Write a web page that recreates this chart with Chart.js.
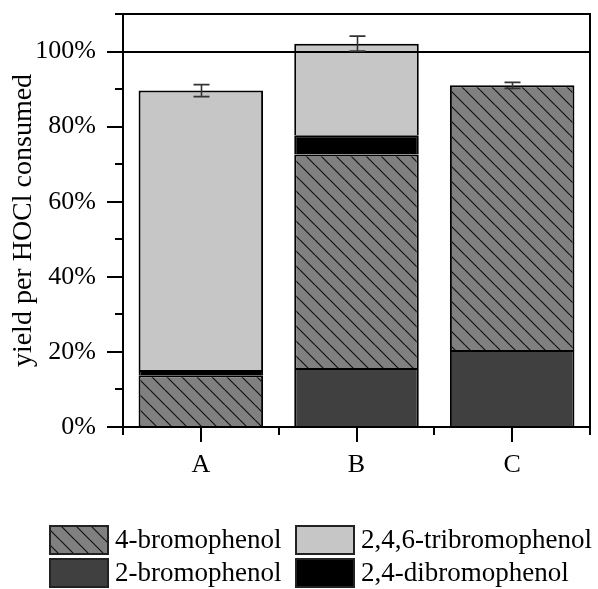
<!DOCTYPE html>
<html>
<head>
<meta charset="utf-8">
<script src="https://cdn.jsdelivr.net/npm/chart.js@4.4.0/dist/chart.umd.min.js"></script>
<style>
  html, body { margin: 0; padding: 0; background: #fff; }
  #wrap { width: 598px; height: 589px; }
</style>
</head>
<body>
<div id="wrap"><canvas id="c" width="598" height="589"></canvas></div>
<script>
// Product yields (% per HOCl consumed) for each condition
const categories   = ['A', 'B', 'C'];
const bromo2       = [null, 15.7, 20.5];   // 2-bromophenol
const bromo4       = [13.8, 56.9, 70.5];   // 4-bromophenol
const dibromo24    = [1.4, 5.1, null];     // 2,4-dibromophenol
const tribromo246  = [74.4, 24.4, null];   // 2,4,6-tribromophenol
const totalErrors  = [1.6, 2.0, 0.8];      // error on total yield
const yMajorTicks  = [0, 20, 40, 60, 80, 100];

const SERIF = '"Liberation Serif", "Times New Roman", serif';

// diagonal hatch for 4-bromophenol
function makeHatch() {
  const s = 15;
  const cv = document.createElement('canvas');
  cv.width = s; cv.height = s;
  const g = cv.getContext('2d');
  g.fillStyle = '#808080';
  g.fillRect(0, 0, s, s);
  g.strokeStyle = '#111';
  g.lineWidth = 1.2;
  g.beginPath();
  for (const k of [-s, 0, s]) {
    g.moveTo(k, 0);
    g.lineTo(k + s, s);
  }
  g.stroke();
  return g.createPattern(cv, 'repeat');
}
const hatch = makeHatch();

// frame, reference line, minor ticks and error bars
const decorations = {
  id: 'decorations',
  afterDatasetsDraw(chart) {
    const { ctx, chartArea: a, scales: { x, y } } = chart;
    ctx.save();
    ctx.strokeStyle = '#000';
    ctx.lineWidth = 2;
    ctx.lineCap = 'butt';
    // top and right frame
    ctx.beginPath();
    ctx.moveTo(a.left, Math.round(a.top));
    ctx.lineTo(a.right + 1, Math.round(a.top));
    ctx.moveTo(Math.round(a.right), a.top);
    ctx.lineTo(Math.round(a.right), a.bottom);
    ctx.stroke();
    // 100 % reference line
    const y100 = Math.round(y.getPixelForValue(100));
    ctx.beginPath();
    ctx.moveTo(a.left, y100);
    ctx.lineTo(a.right, y100);
    ctx.stroke();
    // minor y ticks
    ctx.beginPath();
    for (let v = 10; v <= 110; v += 20) {
      const py = Math.round(y.getPixelForValue(v));
      ctx.moveTo(a.left - 8, py);
      ctx.lineTo(a.left, py);
    }
    // minor x ticks at category boundaries
    const n = categories.length;
    for (let i = 0; i <= n; i++) {
      let px;
      if (i === 0) px = a.left;
      else if (i === n) px = a.right;
      else px = (x.getPixelForValue(i - 1) + x.getPixelForValue(i)) / 2;
      px = Math.round(px);
      ctx.moveTo(px, a.bottom);
      ctx.lineTo(px, a.bottom + 8);
    }
    ctx.stroke();
    // error bars on stacked totals
    ctx.strokeStyle = '#333';
    ctx.lineWidth = 1.6;
    ctx.beginPath();
    categories.forEach((c, i) => {
      const total = chart.data.datasets.reduce((s, d) => s + (d.data[i] || 0), 0);
      const px = Math.round(x.getPixelForValue(i)) + 0.5;
      const hi = y.getPixelForValue(total + totalErrors[i]);
      const lo = y.getPixelForValue(total - totalErrors[i]);
      ctx.moveTo(px, hi); ctx.lineTo(px, lo);
      ctx.moveTo(px - 8, hi); ctx.lineTo(px + 8, hi);
      ctx.moveTo(px - 8, lo); ctx.lineTo(px + 8, lo);
    });
    ctx.stroke();
    ctx.restore();
  }
};

// two-column legend below the plot
const gridLegend = {
  id: 'gridLegend',
  afterDraw(chart) {
    const { ctx } = chart;
    const ds = chart.data.datasets;
    const layout = [
      { idx: 1, col: 0, row: 0 },
      { idx: 3, col: 1, row: 0 },
      { idx: 0, col: 0, row: 1 },
      { idx: 2, col: 1, row: 1 }
    ];
    const colX = [49, 295], rowY = [525, 558];
    const bw = 60, bh = 30;
    ctx.save();
    ctx.font = '27px ' + SERIF;
    ctx.textBaseline = 'middle';
    ctx.textAlign = 'left';
    layout.forEach(it => {
      const d = ds[it.idx];
      const bx = colX[it.col], by = rowY[it.row];
      ctx.fillStyle = d.backgroundColor;
      ctx.fillRect(bx, by, bw, bh);
      ctx.strokeStyle = '#222';
      ctx.lineWidth = 2;
      ctx.strokeRect(bx + 1, by + 1, bw - 2, bh - 2);
      ctx.fillStyle = '#000';
      ctx.fillText(d.label, bx + bw + 6, by + bh / 2 + 1);
    });
    ctx.restore();
  }
};

// each stacked segment draws its top and sides; the base sits on the axis
// or on the segment below, so shared edges stay a single line
const barStyle = {
  borderColor: '#000',
  borderWidth: { top: 2, left: 2, right: 2, bottom: 0 },
  borderSkipped: false
};

new Chart(document.getElementById('c'), {
  type: 'bar',
  data: {
    labels: categories,
    datasets: [
      { label: '2-bromophenol', data: bromo2, backgroundColor: '#404040', ...barStyle },
      { label: '4-bromophenol', data: bromo4, backgroundColor: hatch, ...barStyle },
      { label: '2,4-dibromophenol', data: dibromo24, backgroundColor: '#000000', ...barStyle },
      { label: '2,4,6-tribromophenol', data: tribromo246, backgroundColor: '#c6c6c6', ...barStyle }
    ]
  },
  options: {
    responsive: false,
    animation: false,
    layout: { padding: { top: 14, right: 8, bottom: 108, left: 0 } },
    datasets: { bar: { barPercentage: 0.8, categoryPercentage: 1 } },
    plugins: { legend: { display: false }, tooltip: { enabled: false } },
    scales: {
      x: {
        stacked: true,
        offset: true,
        grid: { offset: false, drawOnChartArea: false, drawTicks: true, tickLength: 15, color: '#000', lineWidth: 2 },
        border: { display: true, color: '#000', width: 2 },
        ticks: { color: '#000', font: { family: SERIF, size: 26 }, padding: 8 },
        afterFit(s) { s.height = 54; }
      },
      y: {
        stacked: true,
        min: 0,
        max: 110,
        ticks: {
          stepSize: 10,
          autoSkip: false,
          color: '#000',
          font: { family: SERIF, size: 26 },
          padding: 11,
          callback: v => yMajorTicks.includes(v) ? v + '%' : ''
        },
        grid: {
          drawOnChartArea: false,
          drawTicks: true,
          tickLength: 16,
          lineWidth: 2,
          color: c => (c.tick && yMajorTicks.includes(c.tick.value)) ? '#000' : 'rgba(0,0,0,0)'
        },
        border: { display: true, color: '#000', width: 2 },
        title: {
          display: true,
          text: 'yield per HOCl consumed',
          color: '#000',
          font: { family: SERIF, size: 28 },
          padding: { top: 7, bottom: 0 }
        },
        afterFit(s) { s.width = 123; s.paddingTop = 0; s.paddingBottom = 0; }
      }
    }
  },
  plugins: [decorations, gridLegend]
});
</script>
</body>
</html>
